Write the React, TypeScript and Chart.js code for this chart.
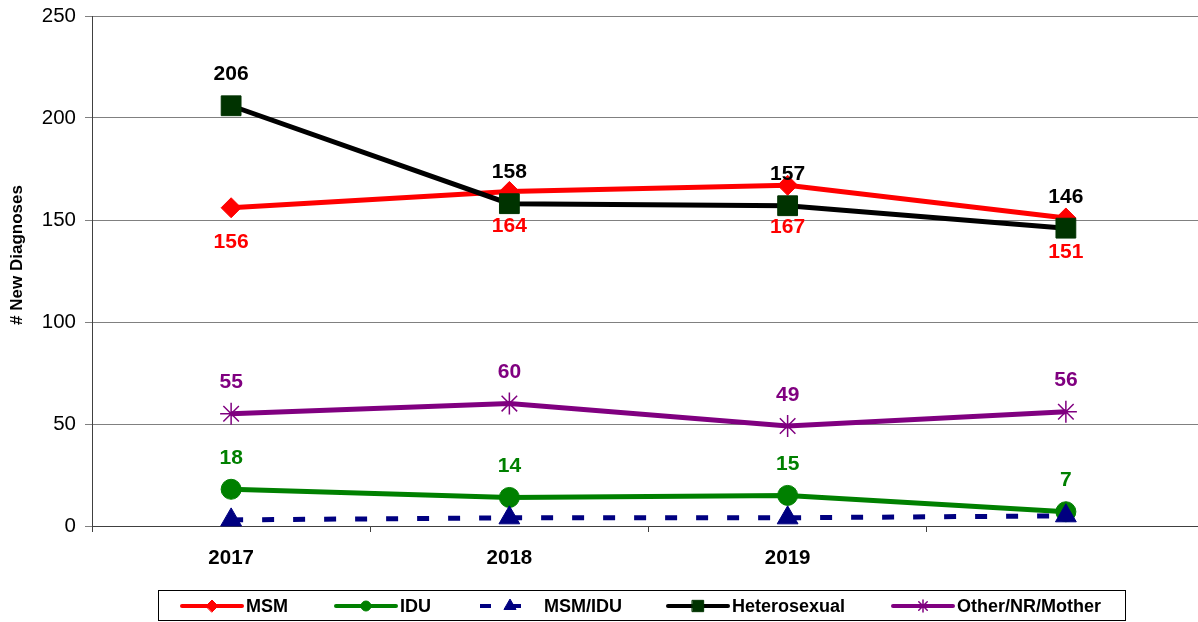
import React, { useEffect, useRef } from "react";
import { Chart, registerables } from "chart.js";
import { drawPoint } from "chart.js/helpers";

Chart.register(...registerables);

// ---- data ----
const categories = ["2017", "2018", "2019", ""];
const yTickValues = [0, 50, 100, 150, 200, 250];
const msm = [156, 164, 167, 151];
const idu = [18, 14, 15, 7];
const msmIdu = [3, 4, 4, 5];
const heterosexual = [206, 158, 157, 146];
const otherNrMother = [55, 60, 49, 56];
const seriesNames = ["MSM", "IDU", "MSM/IDU", "Heterosexual", "Other/NR/Mother"];
const yTitle = "# New Diagnoses";

const FONT = '"Liberation Sans", Arial, sans-serif';

// label placement per dataset: offset of label centre from point (px), null = no label
const labelOffsets: (number | null)[] = [33, -33, null, -33, -33];
const labelColors = ["#FF0000", "#008000", "#000080", "#000000", "#800080"];
// small manual nudges (dataset index -> point index -> extra px)
const labelNudges: Record<string, number> = { "0-2": 7 };

const legendItems = [
  { ds: 0, x: 182, style: "rectRot", r: 6, line: "#FF0000", fill: "#FF0000", dash: [] as number[] },
  { ds: 1, x: 336, style: "circle", r: 5, line: "#008000", fill: "#008000", dash: [] as number[] },
  { ds: 2, x: 480, style: "triangle", r: 7, line: "#000080", fill: "#000080", dash: [11, 19] },
  { ds: 3, x: 668, style: "rect", r: 8, line: "#000000", fill: "#003300", dash: [] as number[] },
  { ds: 4, x: 893, style: "star", r: 6, line: "#800080", fill: "#800080", dash: [] as number[] },
];

const dataLabelPlugin = {
  id: "dataLabels",
  afterDatasetsDraw(chart: any) {
    const ctx = chart.ctx;
    chart.data.datasets.forEach((ds: any, i: number) => {
      const off = labelOffsets[i];
      if (off === null) return;
      const meta = chart.getDatasetMeta(i);
      meta.data.forEach((pt: any, j: number) => {
        const nudge = labelNudges[`${i}-${j}`] || 0;
        ctx.save();
        ctx.font = `bold 21px ${FONT}`;
        ctx.fillStyle = labelColors[i];
        ctx.textAlign = "center";
        ctx.textBaseline = "alphabetic";
        ctx.fillText(String(ds.data[j]), pt.x, pt.y + off + nudge + 7.5);
        ctx.restore();
      });
    });
  },
};

const extrasPlugin = {
  id: "extras",
  afterDraw(chart: any) {
    const ctx = chart.ctx;
    // y axis title
    ctx.save();
    ctx.translate(17, 255);
    ctx.rotate(-Math.PI / 2);
    ctx.font = `bold 17px ${FONT}`;
    ctx.fillStyle = "#000";
    ctx.textAlign = "center";
    ctx.textBaseline = "middle";
    ctx.fillText(yTitle, 0, 0);
    ctx.restore();

    // legend box
    ctx.save();
    ctx.strokeStyle = "#000";
    ctx.lineWidth = 1;
    ctx.strokeRect(158.5, 590.5, 967, 30);
    const cy = 606;
    legendItems.forEach((it) => {
      ctx.save();
      ctx.strokeStyle = it.line;
      ctx.lineWidth = 4;
      ctx.lineCap = it.dash.length ? "butt" : "round";
      ctx.setLineDash(it.dash);
      ctx.beginPath();
      ctx.moveTo(it.x, cy);
      ctx.lineTo(it.x + 60, cy);
      ctx.stroke();
      ctx.setLineDash([]);
      ctx.fillStyle = it.fill;
      ctx.strokeStyle = it.fill;
      ctx.lineWidth = it.style === "star" ? 1.5 : 1;
      drawPoint(ctx, { pointStyle: it.style, rotation: 0, radius: it.r, borderWidth: ctx.lineWidth }, it.x + 30, cy);
      ctx.font = `bold 18px ${FONT}`;
      ctx.fillStyle = "#000";
      ctx.textAlign = "left";
      ctx.textBaseline = "middle";
      ctx.fillText(seriesNames[it.ds], it.x + 64, cy + 1);
      ctx.restore();
    });
    ctx.restore();
  },
};

export default function App() {
  const ref = useRef<HTMLCanvasElement | null>(null);

  useEffect(() => {
    document.body.style.margin = "0";
    if (!ref.current) return;
    const common = { borderWidth: 5, tension: 0, clip: false as any, pointBorderWidth: 1 };
    const chart = new Chart(ref.current, {
      type: "line",
      data: {
        labels: categories,
        datasets: [
          {
            ...common,
            label: seriesNames[0],
            data: msm,
            borderColor: "#FF0000",
            pointStyle: "rectRot",
            pointRadius: 10,
            pointBackgroundColor: "#FF0000",
            pointBorderColor: "#FF0000",
            order: 5,
          },
          {
            ...common,
            label: seriesNames[1],
            data: idu,
            borderColor: "#008000",
            pointStyle: "circle",
            pointRadius: 10,
            pointBackgroundColor: "#008000",
            pointBorderColor: "#008000",
            order: 4,
          },
          {
            ...common,
            label: seriesNames[2],
            data: msmIdu,
            borderColor: "#000080",
            borderDash: [12, 19],
            pointStyle: "triangle",
            pointRadius: 12,
            pointBackgroundColor: "#000080",
            pointBorderColor: "#000080",
            order: 3,
          },
          {
            ...common,
            label: seriesNames[3],
            data: heterosexual,
            borderColor: "#000000",
            pointStyle: "rect",
            pointRadius: 14,
            pointBackgroundColor: "#003300",
            pointBorderColor: "#003300",
            order: 2,
          },
          {
            ...common,
            label: seriesNames[4],
            data: otherNrMother,
            borderColor: "#800080",
            pointStyle: "star",
            pointRadius: 11,
            pointBorderWidth: 1.5,
            pointBackgroundColor: "#800080",
            pointBorderColor: "#800080",
            order: 1,
          },
        ],
      },
      options: {
        responsive: false,
        animation: false,
        devicePixelRatio: 1,
        layout: { autoPadding: false, padding: { left: 0, right: 0, top: 16, bottom: 0 } },
        plugins: { legend: { display: false }, tooltip: { enabled: false }, title: { display: false } },
        scales: {
          x: {
            type: "category",
            offset: true,
            grid: { offset: true, drawOnChartArea: false, drawTicks: true, tickLength: 6, color: "#404040" },
            border: { color: "#404040", width: 1 },
            ticks: {
              color: "#000",
              font: { family: FONT, size: 20.5, weight: "bold" },
              padding: 14,
              maxRotation: 0,
              autoSkip: false,
            },
            afterFit: (s: any) => {
              s.height = 96;
              s.paddingLeft = 0;
              s.paddingRight = 0;
            },
          },
          y: {
            min: 0,
            max: 250,
            grid: { color: "#808080", tickLength: 7, lineWidth: 1 },
            border: { color: "#404040", width: 1 },
            ticks: { color: "#000", font: { family: FONT, size: 20.5 }, padding: 9 },
            afterBuildTicks: (s: any) => {
              s.ticks = yTickValues.map((v) => ({ value: v }));
            },
            afterFit: (s: any) => {
              s.width = 92;
              s.paddingTop = 0;
              s.paddingBottom = 0;
            },
          },
        },
      },
      plugins: [dataLabelPlugin, extrasPlugin],
    } as any);
    return () => chart.destroy();
  }, []);

  return (
    <div style={{ width: 1198, height: 622, background: "#fff", overflow: "hidden" }}>
      <canvas ref={ref} width={1205} height={622} style={{ display: "block" }} />
    </div>
  );
}
